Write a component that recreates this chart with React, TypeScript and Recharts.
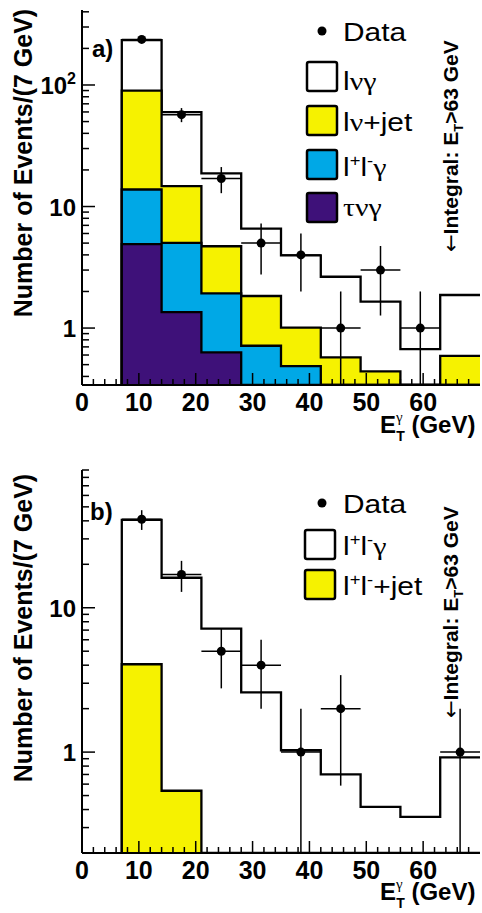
import React from 'react';
import { ComposedChart, Area, Scatter, XAxis, YAxis, ErrorBar } from 'recharts';

// ---------- binning ----------
const BIN_LOW = [7, 14, 21, 28, 35, 42, 49, 56, 63];
const BIN_WIDTH = 7;
const X_DOMAIN = [0, 70];
const X_TICKS = [0, 2, 4, 6, 8, 10, 12, 14, 16, 18, 20, 22, 24, 26, 28, 30, 32, 34, 36, 38, 40, 42, 44, 46, 48, 50, 52, 54, 56, 58, 60, 62, 64, 66, 68];

// ---------- panel a ----------
const A_TAU_NU_GAMMA = [4.9, 1.35, 0.63, 0, 0, 0, 0, 0, 0];
const A_LL_GAMMA = [8.9, 3.67, 1.3, 0.715, 0.487, 0, 0, 0, 0];
const A_LNU_JET = [76, 9.7, 2.78, 1.12, 0.52, 0.574, 0.44, 0, 0.59];
const A_LNU_GAMMA = [144, 45, 14, 4.75, 2.96, 2.07, 1.21, 0.67, 1.28];
const A_DATA = [237, 57, 17, 5, 4, 1, 3, 1, 0];
const A_Y_DOMAIN = [0.34, 414];
const A_Y_TICKS = [0.4, 0.5, 0.6, 0.7, 0.8, 0.9, 1, 2, 3, 4, 5, 6, 7, 8, 9, 10, 20, 30, 40, 50, 60, 70, 80, 90, 100, 200, 300, 400];

// ---------- panel b ----------
const B_LL_JET = [4.06, 0.54, 0, 0, 0, 0, 0, 0, 0];
const B_LL_GAMMA = [36.6, 15.6, 7.17, 2.59, 1.03, 0.7, 0.418, 0.356, 0.92];
const B_DATA = [41, 17, 5, 4, 1, 2, 0, 0, 1];
const B_Y_DOMAIN = [0.2, 90];
const B_Y_TICKS = [0.3, 0.4, 0.5, 0.6, 0.7, 0.8, 0.9, 1, 2, 3, 4, 5, 6, 7, 8, 9, 10, 20, 30, 40, 50, 60, 70, 80, 90];

// ---------- colours ----------
const YELLOW = '#F6F200';
const BLUE = '#00A8E6';
const PURPLE = '#3E1179';
const SANS = 'Liberation Sans, Arial, Helvetica, sans-serif';
const SERIF = 'Liberation Serif, Times New Roman, serif';

function cumulative(layers: number[][]): number[][] {
  const out: number[][] = [];
  let acc = BIN_LOW.map(() => 0);
  for (const l of layers) {
    acc = acc.map((a, i) => a + l[i]);
    out.push(acc);
  }
  return out;
}

function stepRows(series: Record<string, number[]>, floor: number) {
  const keys = Object.keys(series);
  const clamp = (v: number) => Math.max(v, floor);
  const rows: any[] = [];
  const first: any = { x: BIN_LOW[0] };
  keys.forEach((k) => (first[k] = floor));
  rows.push(first);
  BIN_LOW.forEach((lo, i) => {
    const r: any = { x: lo };
    keys.forEach((k) => (r[k] = clamp(series[k][i])));
    rows.push(r);
  });
  const last: any = { x: BIN_LOW[BIN_LOW.length - 1] + BIN_WIDTH };
  keys.forEach((k) => (last[k] = clamp(series[k][series[k].length - 1])));
  rows.push(last);
  return rows;
}

function dataPoints(counts: number[], floor: number) {
  const pts: any[] = [];
  counts.forEach((n, i) => {
    if (n <= 0) return;
    const e = Math.sqrt(n);
    const lo = Math.max(n - e, floor);
    pts.push({ x: BIN_LOW[i] + BIN_WIDTH / 2, y: n, ey: [n - lo, e], ex: BIN_WIDTH / 2 });
  });
  return pts;
}

const [aTau, aLL, aJet, aTot] = cumulative([A_TAU_NU_GAMMA, A_LL_GAMMA, A_LNU_JET, A_LNU_GAMMA]);
const rowsA = stepRows({ total: aTot, jet: aJet, ll: aLL, tau: aTau }, A_Y_DOMAIN[0]);
const pointsA = dataPoints(A_DATA, A_Y_DOMAIN[0]);

const [bJet, bTot] = cumulative([B_LL_JET, B_LL_GAMMA]);
const rowsB = stepRows({ total: bTot, jet: bJet }, B_Y_DOMAIN[0]);
const pointsB = dataPoints(B_DATA, B_Y_DOMAIN[0]);

// ---------- ticks ----------
const isMajorLog = (v: number) => Math.abs(Math.log10(v) - Math.round(Math.log10(v))) < 1e-6;

const LeftTick = (props: any) => {
  const { x, y, payload } = props;
  const v = payload.value;
  const major = isMajorLog(v);
  return (
    <g>
      <line x1={x} x2={x + (major ? 13 : 7)} y1={y} y2={y} stroke="#000" strokeWidth={1.5} />
      {major && (
        <text x={x - 6} y={y + 9} textAnchor="end" fontSize={24} fontWeight="bold" fontFamily={SANS} fill="#000">
          {v === 100 ? (
            <>
              10
              <tspan dy={-10} fontSize={16}>2</tspan>
            </>
          ) : (
            String(v)
          )}
        </text>
      )}
    </g>
  );
};

const RightTick = (props: any) => {
  const { x, y, payload } = props;
  const major = isMajorLog(payload.value);
  return <line x1={x} x2={x - (major ? 13 : 7)} y1={y} y2={y} stroke="#000" strokeWidth={1.5} />;
};

const BottomTick = (props: any) => {
  const { x, y, payload } = props;
  const v = payload.value;
  const major = v % 10 === 0;
  return (
    <g>
      <line x1={x} x2={x} y1={y} y2={y - (major ? 12 : 6)} stroke="#000" strokeWidth={1.5} />
      {major && (
        <text x={x} y={y + 26} textAnchor="middle" fontSize={25} fontWeight="bold" fontFamily={SANS} fill="#000">
          {String(v)}
        </text>
      )}
    </g>
  );
};

const TopTick = (props: any) => {
  const { x, y, payload } = props;
  const major = payload.value % 10 === 0;
  return <line x1={x} x2={x} y1={y} y2={y + (major ? 12 : 6)} stroke="#000" strokeWidth={1.5} />;
};

const DataDot = (props: any) => <circle cx={props.cx} cy={props.cy} r={4.5} fill="#000" />;

const AXIS_LINE = { stroke: '#000', strokeWidth: 2 };

function Panel({ rows, points, yDomain, yTicks, layers, height, top, plotHeight }: any) {
  return (
    <ComposedChart width={482} height={height} data={rows} margin={{ top, right: 2, bottom: 0, left: 0 }}>
      <XAxis dataKey="x" type="number" domain={X_DOMAIN} ticks={X_TICKS} interval={0} allowDataOverflow
        tickSize={0} tickMargin={0} height={height - top - plotHeight} tickLine={false}
        axisLine={AXIS_LINE} tick={<BottomTick />} />
      <XAxis xAxisId="top" orientation="top" dataKey="x" type="number" domain={X_DOMAIN} ticks={X_TICKS} interval={0}
        allowDataOverflow tickSize={0} tickMargin={0} height={0} tickLine={false} axisLine={AXIS_LINE} tick={<TopTick />} />
      <YAxis scale="log" type="number" domain={yDomain} ticks={yTicks} interval={0} allowDataOverflow width={82}
        tickSize={0} tickMargin={0} tickLine={false} axisLine={AXIS_LINE} tick={<LeftTick />} />
      <YAxis yAxisId="right" orientation="right" scale="log" type="number" domain={yDomain} ticks={yTicks} interval={0}
        allowDataOverflow width={0} tickSize={0} tickMargin={0} tickLine={false} axisLine={AXIS_LINE} tick={<RightTick />} />
      {layers.map((l: any) => (
        <Area key={l.key} type="stepAfter" dataKey={l.key} fill={l.fill} fillOpacity={1} stroke="#000" strokeWidth={2.3}
          baseValue="dataMin" dot={false} activeDot={false} isAnimationActive={false} />
      ))}
      <Scatter data={points} dataKey="y" shape={<DataDot />} isAnimationActive={false}>
        <ErrorBar dataKey="ey" direction="y" width={0} stroke="#000" strokeWidth={1.5} isAnimationActive={false} />
        <ErrorBar dataKey="ex" direction="x" width={0} stroke="#000" strokeWidth={1.5} isAnimationActive={false} />
      </Scatter>
    </ComposedChart>
  );
}

const LegendBox = ({ x, y, fill }: any) => (
  <rect x={x} y={y} width={30} height={29} rx={2} fill={fill} stroke="#000" strokeWidth={2.5} />
);

const LText = ({ x, y, children }: any) => (
  <text transform={`translate(${x},${y}) scale(1.15,1)`} fontSize={26} fontFamily={SANS} fill="#000">
    {children}
  </text>
);

// l+ l- with superscripts; `tail` is rendered back on the baseline
const LLText = ({ tail, tailSerif }: any) => (
  <>
    l
    <tspan dy={-10} fontSize={16}>+</tspan>
    <tspan dy={10}>l</tspan>
    <tspan dy={-10} fontSize={16}>-</tspan>
    <tspan dy={10} fontFamily={tailSerif ? SERIF : SANS}>{tail}</tspan>
  </>
);

const ETitle = ({ x, y }: any) => (
  <text x={x} y={y} fontSize={24} fontWeight="bold" fontFamily={SANS} fill="#000">
    E
    <tspan dy={-11} fontSize={15} fontFamily={SERIF} fontWeight="normal">γ</tspan>
    <tspan dx={-6.5} dy={19} fontSize={14}>T</tspan>
    <tspan dy={-8}> (GeV)</tspan>
  </text>
);

const Integral = ({ x, y }: any) => (
  <text transform={`translate(${x},${y}) rotate(-90)`} fontSize={21} fontWeight="bold" fontFamily={SANS} fill="#000">
    <tspan fontWeight="normal" fontFamily="DejaVu Sans, sans-serif">←</tspan>
    <tspan>Integral: E</tspan>
    <tspan dy={5} fontSize={13}>T</tspan>
    <tspan dy={-5}>&gt;63 GeV</tspan>
  </text>
);

const YTitle = ({ cx, cy }: any) => (
  <text transform={`translate(${cx},${cy}) rotate(-90)`} textAnchor="middle" fontSize={25} fontWeight="bold" fontFamily={SANS} fill="#000">
    Number of Events/(7 GeV)
  </text>
);

export default function App() {
  return (
    <div style={{ position: 'absolute', left: 0, top: 0, width: 482, height: 913, background: '#fff' }}>
      <div style={{ position: 'absolute', left: 0, top: 0 }}>
        <Panel rows={rowsA} points={pointsA} yDomain={A_Y_DOMAIN} yTicks={A_Y_TICKS} height={450} top={10} plotHeight={375}
          layers={[
            { key: 'total', fill: '#fff' },
            { key: 'jet', fill: YELLOW },
            { key: 'll', fill: BLUE },
            { key: 'tau', fill: PURPLE },
          ]} />
      </div>
      <div style={{ position: 'absolute', left: 0, top: 450 }}>
        <Panel rows={rowsB} points={pointsB} yDomain={B_Y_DOMAIN} yTicks={B_Y_TICKS} height={463} top={20} plotHeight={383}
          layers={[
            { key: 'total', fill: '#fff' },
            { key: 'jet', fill: YELLOW },
          ]} />
      </div>
      <svg width={482} height={913} style={{ position: 'absolute', left: 0, top: 0, pointerEvents: 'none' }}>
        {/* panel a */}
        <YTitle cx={32} cy={163} />
        <text x={92} y={57} fontSize={24} fontWeight="bold" fontFamily={SANS}>a)</text>
        <circle cx={322} cy={31} r={4.5} fill="#000" />
        <LText x={343} y={41}>Data</LText>
        <LegendBox x={307} y={62} fill="#fff" />
        <LText x={343} y={90}>l<tspan fontFamily={SERIF}>νγ</tspan></LText>
        <LegendBox x={307} y={106} fill={YELLOW} />
        <LText x={343} y={131}>l<tspan fontFamily={SERIF}>ν</tspan><tspan>+jet</tspan></LText>
        <LegendBox x={307} y={150} fill={BLUE} />
        <LText x={343} y={176}><LLText tail="γ" tailSerif /></LText>
        <LegendBox x={307} y={193} fill={PURPLE} />
        <LText x={343} y={216}><tspan fontFamily={SERIF}>τνγ</tspan></LText>
        <Integral x={458} y={252} />
        <ETitle x={380} y={433} />

        {/* panel b */}
        <YTitle cx={32} cy={628} />
        <text x={90} y={520} fontSize={24} fontWeight="bold" fontFamily={SANS}>b)</text>
        <circle cx={322} cy={503} r={4.5} fill="#000" />
        <LText x={343} y={513}>Data</LText>
        <LegendBox x={305} y={530} fill="#fff" />
        <LText x={343} y={555}><LLText tail="γ" tailSerif /></LText>
        <LegendBox x={305} y={570} fill={YELLOW} />
        <LText x={343} y={595}><LLText tail="+jet" /></LText>
        <Integral x={458} y={718} />
        <ETitle x={380} y={900} />
      </svg>
    </div>
  );
}
